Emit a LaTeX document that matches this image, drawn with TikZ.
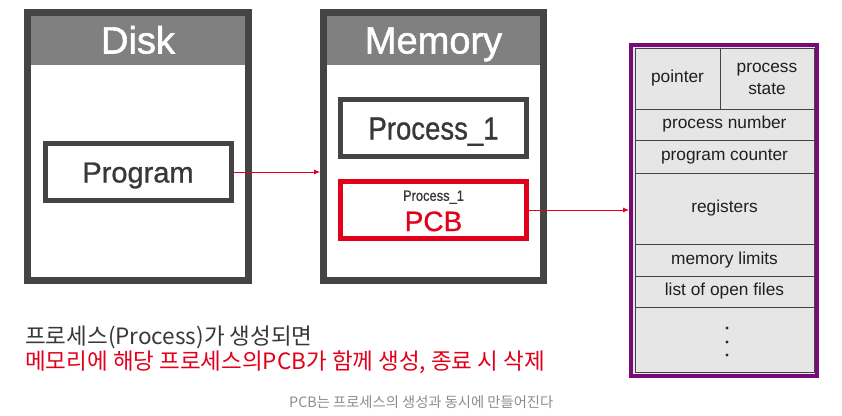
\documentclass[tikz,border=0pt]{standalone}
\usepackage{fontspec}
\setmainfont{Liberation Sans}
\newfontfamily\kofont{Noto Sans CJK KR}
\newfontfamily\heavyfont[FakeBold=1.4]{Liberation Sans}
\newfontfamily\mediumfont[FakeBold=0.8]{Liberation Sans}
\newfontfamily\narrowfont[FakeStretch=0.86,FakeBold=0.8]{Liberation Sans}
\usetikzlibrary{arrows.meta}

\definecolor{boxgray}{HTML}{444444}
\definecolor{headgray}{HTML}{808080}
\definecolor{pcbred}{HTML}{E2001A}
\definecolor{pcbpurple}{HTML}{7A0A7A}
\definecolor{cellgray}{HTML}{E6E6E6}
\definecolor{textgray}{HTML}{383838}

\tikzset{
  unit/.style={draw=boxgray, line width=7pt, minimum width=221pt, minimum height=268pt, inner sep=0pt},
  unittitle/.style={text=white, inner sep=0pt, text height=27pt, text depth=0pt, font=\heavyfont\fontsize{38}{40}\selectfont},
  item/.style={draw=boxgray, line width=5pt, fill=white, minimum width=186pt, minimum height=57pt, inner sep=0pt, text=textgray, text depth=0pt},
  cell/.style={draw=boxgray, line width=0.9pt, fill=cellgray, minimum width=179pt, inner sep=0pt, text=black!88, font=\fontsize{17.3}{22}\selectfont},
  link/.style={draw=pcbred, line width=0.8pt, -{Latex[length=6pt,width=5pt]}},
  caption/.style={anchor=west, inner sep=0pt, font=\kofont\fontsize{22.5}{26}\selectfont},
}

\begin{document}
\begin{tikzpicture}[x=1pt, y=-1pt]
  \useasboundingbox (0,0) rectangle (842,415);

  % disk
  \node[unit] (disk) at (138,146.5) {};
  \fill[headgray] (31,16) rectangle (245,65);
  \node[unittitle] (disktitle) at (138,40) {Disk};
  \node[item, text height=21pt, font=\mediumfont\fontsize{29}{32}\selectfont] (program) at (138,172) {Program};

  % memory
  \node[unit, minimum width=220pt] (memory) at (433.5,146.5) {};
  \fill[headgray] (327,16) rectangle (540,65);
  \node[unittitle] (memtitle) at (433.5,40) {Memory};
  \node[item, text height=23pt, font=\narrowfont\fontsize{32}{34}\selectfont] (process) at (433.5,128) {Process\_1};
  \node[item, draw=pcbred] (pcb) at (433.5,210) {};
  \node[inner sep=0pt, text height=10.7pt, text depth=0pt, text=textgray, font=\narrowfont\fontsize{15}{16}\selectfont] (pcbsub) at (433.5,195.5) {Process\_1};
  \node[inner sep=0pt, text height=20pt, text depth=0pt, text=pcbred, font=\mediumfont\fontsize{28}{30}\selectfont] (pcbname) at (433.5,221) {PCB};

  % process control block
  \node[draw=pcbpurple, line width=4pt, fill=cellgray, minimum width=186pt, minimum height=331pt, inner sep=0pt] (pcbtable) at (724,210.5) {};
  \node[cell, minimum width=85pt, minimum height=61pt] (pointer) at (677.5,78.5) {pointer};
  \node[cell, minimum width=94pt, minimum height=61pt, align=center] (state) at (767,78.5) {process\\state};
  \foreach \y/\h/\txt/\nm in {124.5/31/process number/pnum, 156.5/33/program counter/pcount,
      208.5/71/registers/regs, 260/32/memory limits/memlim, 291.5/31/list of open files/files}
    \node[cell, minimum height=\h pt] (\nm) at (724.5,\y) {\txt};
  \node[cell, minimum height=65pt] (more) at (724.5,339.5) {};
  \foreach \y in {328,342,355}
    \fill[black!85] (727,\y) circle (1.6pt);

  % connectors
  \draw[link] (program.east) -- (program.east -| memory.west);
  \draw[link] (pcb.east) -- (pcb.east -| pcbtable.west);

  % captions
  \node[caption, text=textgray] (line1) at (25,337) {프로세스(Process)가 생성되면};
  \node[caption, text=pcbred] (line2) at (25,362) {메모리에 해당 프로세스의PCB가 함께 생성, 종료 시 삭제};
  \node[caption, text=black!45, font=\kofont\fontsize{14.3}{17}\selectfont] (note) at (289,402) {PCB는 프로세스의 생성과 동시에 만들어진다};
\end{tikzpicture}
\end{document}
